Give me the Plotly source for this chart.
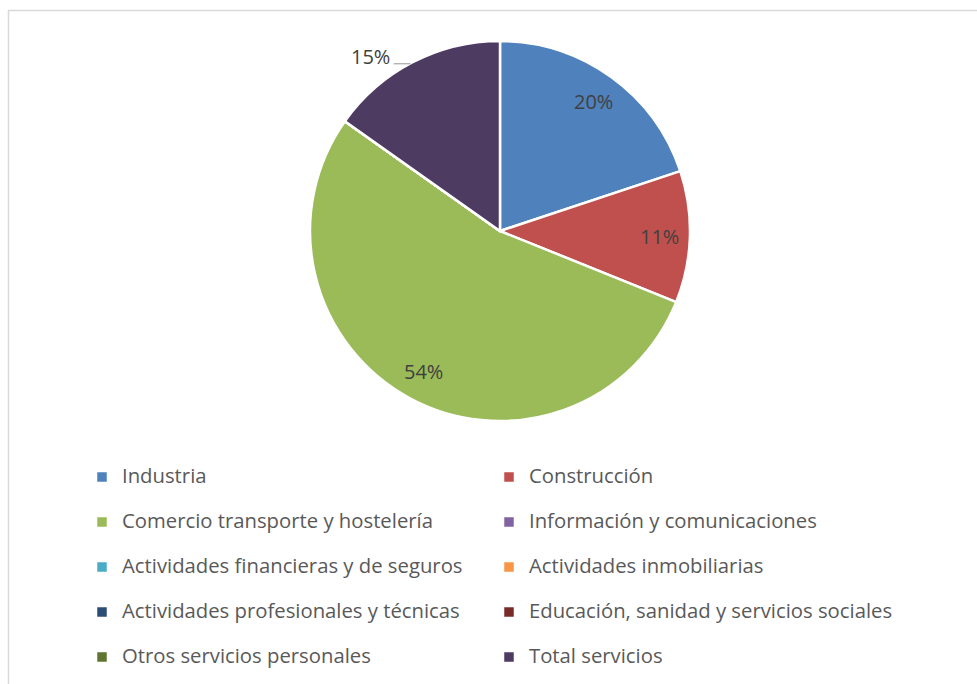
import math
import plotly.graph_objects as go

# Sector shares (percent of total)
sectors = [
    "Industria",
    "Construcción",
    "Comercio transporte y hostelería",
    "Información y comunicaciones",
    "Actividades financieras y de seguros",
    "Actividades inmobiliarias",
    "Actividades profesionales y técnicas",
    "Educación, sanidad y servicios sociales",
    "Otros servicios personales",
    "Total servicios",
]
shares = [19.9, 11.2, 53.7, 0, 0, 0, 0, 0, 0, 15.2]
colors = [
    "#4F81BD", "#C0504D", "#9BBB59", "#8064A2", "#4BACC6",
    "#F79646", "#2C4D75", "#772C2A", "#5F7530", "#4D3B62",
]
outside_labels = {"Total servicios"}

W, H = 977, 684
FONT = "'Open Sans', sans-serif"
LABEL_COLOR = "#404040"

# pie geometry in pixels
cx, cy, R = 500, 231, 190


def to_paper(px, py):
    return px / W, 1 - py / H


# a blank second line gives each legend row extra height; symbols align to the top line
legend_labels = [f"<span style='font-size:20.3px'>{s}</span><br> " for s in sectors]

fig = go.Figure(
    go.Pie(
        labels=legend_labels,
        values=shares,
        sort=False,
        direction="clockwise",
        rotation=0,
        marker=dict(colors=colors, line=dict(color="white", width=2.5)),
        textinfo="none",
        hoverinfo="skip",
        domain=dict(x=[(cx - R) / W, (cx + R) / W],
                    y=[1 - (cy + R) / H, 1 - (cy - R) / H]),
    )
)

# percentage labels placed along each slice's mid-angle
total = sum(shares)
annotations, shapes = [], []
start = 0.0
for name, v in zip(sectors, shares):
    frac = v / total
    if v > 0:
        mid = 2 * math.pi * (start + frac / 2)
        txt = f"{round(frac * 100)}%"
        if name in outside_labels:
            ex, ey = cx + R * math.sin(mid), cy - R * math.cos(mid)
            x0, y0 = to_paper(ex - 2, ey + 1.5)
            x1, _ = to_paper(ex - 19, ey + 1.5)
            shapes.append(dict(type="line", xref="paper", yref="paper",
                               x0=x0, x1=x1, y0=y0, y1=y0,
                               line=dict(color="#A6A6A6", width=1.2)))
            ax, ay = to_paper(ex - 21, ey - 6)
            annotations.append(dict(x=ax, y=ay, xref="paper", yref="paper",
                                    text=txt, showarrow=False,
                                    xanchor="right", yanchor="middle",
                                    font=dict(family=FONT, size=20, color=LABEL_COLOR)))
        else:
            rr = 0.84 * R
            px, py = cx + rr * math.sin(mid), cy - rr * math.cos(mid)
            ax, ay = to_paper(px, py)
            annotations.append(dict(x=ax, y=ay, xref="paper", yref="paper",
                                    text=txt, showarrow=False,
                                    xanchor="center", yanchor="middle",
                                    font=dict(family=FONT, size=20, color=LABEL_COLOR)))
    start += frac

# chart frame
shapes.insert(0, dict(type="rect", xref="paper", yref="paper",
                      x0=8.5 / W, x1=1.02, y0=-0.02, y1=1 - 10.5 / H,
                      line=dict(color="#D9D9D9", width=1.5),
                      fillcolor="rgba(0,0,0,0)", layer="below"))

fig.update_layout(
    width=W,
    height=H,
    margin=dict(l=0, r=0, t=0, b=0, autoexpand=False),
    paper_bgcolor="white",
    plot_bgcolor="white",
    showlegend=True,
    legend=dict(
        orientation="h",
        x=82 / W,
        xanchor="left",
        y=1 - 460 / H,
        yanchor="top",
        valign="top",
        entrywidth=362,
        entrywidthmode="pixels",
        font=dict(family=FONT, size=16.15, color="#595959"),
        bgcolor="rgba(0,0,0,0)",
        traceorder="normal",
    ),
    annotations=annotations,
    shapes=shapes,
)

fig.write_html("out.html")
